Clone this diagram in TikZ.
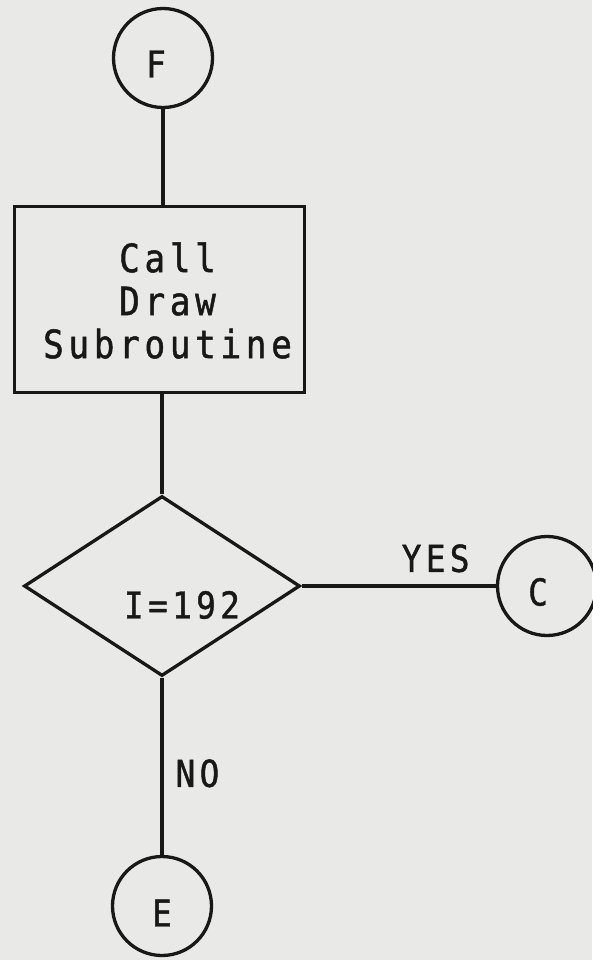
\documentclass[tikz,border=0pt]{standalone}
\usepackage{fontspec}
\setmonofont{DejaVu Sans Mono}[LetterSpace=12, FakeStretch=0.88, FakeBold=1.2]
\usetikzlibrary{shapes.geometric}
\definecolor{paper}{RGB}{233,233,231}
\definecolor{ink}{RGB}{24,24,24}
\tikzset{
  flow/.style={draw=ink, line width=3.3pt},
  connector/.style={circle, flow, minimum size=99pt, inner sep=0pt},
  process/.style={rectangle, flow, minimum width=290pt, minimum height=186pt, inner sep=0pt},
  decision/.style={diamond, flow, shape aspect=1.53, minimum width=276pt, minimum height=180pt, inner sep=0pt},
  lbl/.style={font=\fontsize{37}{43}\selectfont\ttfamily, text=ink, inner sep=0pt},
  boxtext/.style={font=\fontsize{39}{43}\selectfont\ttfamily, text=ink, inner sep=0pt, align=center},
  wire/.style={draw=ink, line width=3.3pt},
}
\begin{document}
\begin{tikzpicture}[x=1pt,y=-1pt]
  % sheet
  \fill[paper] (0,0) rectangle (592,960);
  \useasboundingbox (0,0) rectangle (592,960);

  % flowchart symbols
  \node[connector, label={[lbl, xshift=-7pt, yshift=-6pt]center:F}] (F) at (163,58) {};
  \node[process, label={[boxtext, xshift=8pt, yshift=-1pt]center:Call\\Draw\\Subroutine}] (box) at (159.5,299.5) {};
  \node[decision, label={[lbl, xshift=20pt, yshift=-19pt]center:I=192}] (dec) at (162,586) {};
  \node[connector, label={[lbl, xshift=-9pt, yshift=-6pt]center:C}] (C) at (547,586) {};
  \node[connector, label={[lbl, xshift=0pt, yshift=-7pt]center:E}] (E) at (162,906) {};

  % flow lines
  \draw[wire] (F.south) -- (F.south |- box.north);
  \draw[wire] (box.south -| dec.north) -- (dec.north);
  \draw[wire] (dec.east) -- node[lbl, pos=0.69, above=12pt] (yes) {YES} (C.west);
  \draw[wire] (dec.south) -- node[lbl, pos=0.54, anchor=west, xshift=12pt] (no) {NO} (dec.south |- E.north);
\end{tikzpicture}
\end{document}
